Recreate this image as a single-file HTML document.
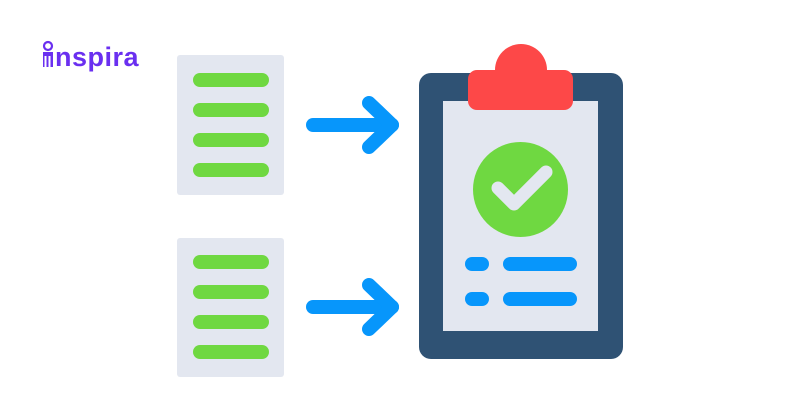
<!DOCTYPE html>
<html><head><style>body{margin:0;background:#fff}svg{display:block}</style></head><body>
<svg width="800" height="420" viewBox="0 0 800 420" xmlns="http://www.w3.org/2000/svg">
<rect width="800" height="420" fill="#fff"/>
<g fill="#6a2ff0">
<circle cx="48" cy="46" r="4" fill="none" stroke="#6a2ff0" stroke-width="2.2"/>
<path d="M43 52 h10 v15 h-2.5 v-11 h-2 v11 h-2 v-11 h-2 v11 h-1.5z"/>
</g>
<text x="55" y="66" font-family="Liberation Sans, sans-serif" font-weight="bold" font-size="27" letter-spacing="0.5" fill="#6a2ff0">nspira</text>
<g>
<rect x="177" y="55" width="107" height="140" rx="3" fill="#e3e7f0"/>
<rect x="177" y="238" width="107" height="139" rx="3" fill="#e3e7f0"/>
<g stroke="#6fd841" stroke-width="14" stroke-linecap="round">
<line x1="200" y1="80" x2="262" y2="80"/><line x1="200" y1="110" x2="262" y2="110"/>
<line x1="200" y1="140" x2="262" y2="140"/><line x1="200" y1="170" x2="262" y2="170"/>
<line x1="200" y1="262" x2="262" y2="262"/><line x1="200" y1="292" x2="262" y2="292"/>
<line x1="200" y1="322" x2="262" y2="322"/><line x1="200" y1="352" x2="262" y2="352"/>
</g>
<g stroke="#0796fb" stroke-width="14" stroke-linecap="round" stroke-linejoin="round" fill="none">
<line x1="313" y1="125" x2="392" y2="125"/><polyline points="369,103 392,125 369,147"/>
<line x1="313" y1="307" x2="392" y2="307"/><polyline points="369,285 392,307 369,329"/>
</g>
<rect x="419" y="73" width="204" height="286" rx="12" fill="#2f5274"/>
<rect x="443" y="101" width="155" height="230" fill="#e3e7f0"/>
<circle cx="521" cy="70" r="26" fill="#fd4848"/>
<rect x="468" y="70" width="105" height="40" rx="9" fill="#fd4848"/>
<circle cx="520.5" cy="189.5" r="47.5" fill="#6fd841"/>
<polyline points="498,188 514,204 546,172" fill="none" stroke="#e3e7f0" stroke-width="13" stroke-linecap="round" stroke-linejoin="round"/>
<g stroke="#0796fb" stroke-width="14" stroke-linecap="round">
<line x1="472" y1="264" x2="482" y2="264"/><line x1="510" y1="264" x2="570" y2="264"/>
<line x1="472" y1="299" x2="482" y2="299"/><line x1="510" y1="299" x2="570" y2="299"/>
</g>
</g>
</svg>
</body></html>
